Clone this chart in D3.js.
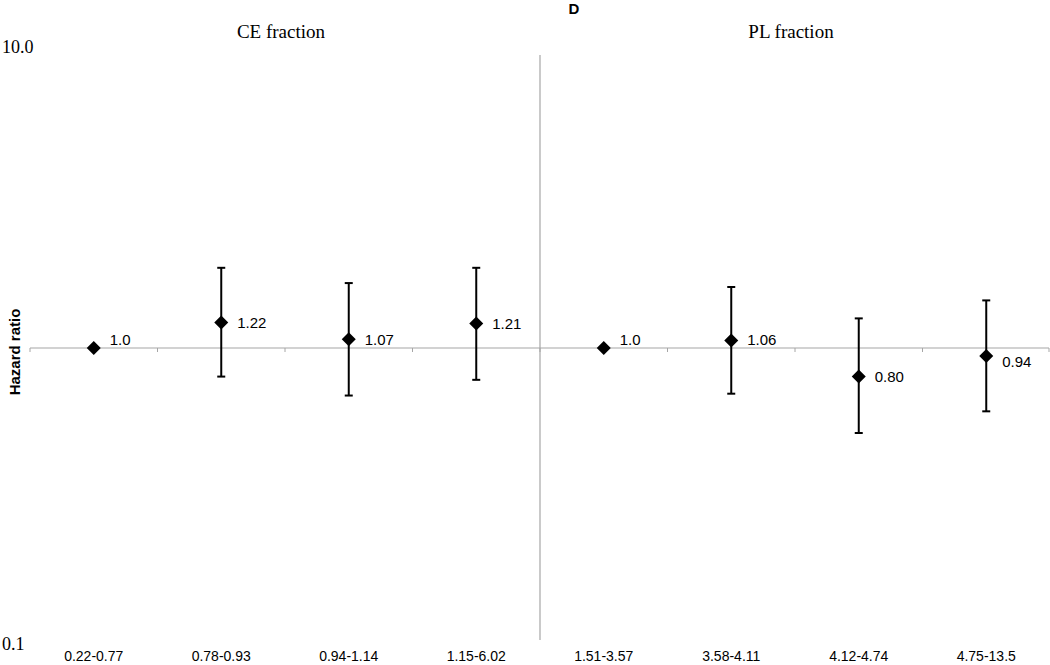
<!DOCTYPE html>
<html>
<head>
<meta charset="utf-8">
<script src="https://cdn.jsdelivr.net/npm/d3@7"></script>
<style>
  html, body { margin: 0; padding: 0; background: #fff; }
  svg { display: block; }
</style>
</head>
<body>
<svg id="chart" width="1050" height="665"></svg>
<script>
// ---- data ----
const categories = ["0.22-0.77", "0.78-0.93", "0.94-1.14", "1.15-6.02",
                    "1.51-3.57", "3.58-4.11", "4.12-4.74", "4.75-13.5"];
const hazardRatio = [1.0, 1.22, 1.07, 1.21, 1.0, 1.06, 0.80, 0.94];
const ciLower     = [null, 0.80, 0.69, 0.78, null, 0.70, 0.515, 0.61];
const ciUpper     = [null, 1.87, 1.66, 1.87, null, 1.61, 1.26, 1.45];
const pointLabels = ["1.0", "1.22", "1.07", "1.21", "1.0", "1.06", "0.80", "0.94"];
const groupTitles = ["CE fraction", "PL fraction"];
const yTickValues = [0.1, 10];
const yTickLabels = ["0.1", "10.0"];
const panelTitle = "D";
const yAxisTitle = "Hazard ratio";

// ---- layout ----
const svg = d3.select("#chart");
const mLeft = 30, mRight = 1050, mTop = 53, mBottom = 643;
const axisColor = "#a6a6a6";

const x = d3.scaleBand().domain(categories).range([mLeft, mRight]).padding(0);
const y = d3.scaleLog().domain([0.1, 10]).range([mBottom, mTop]);
const y1 = y(1);

// horizontal axis line at HR = 1
svg.append("line")
  .attr("x1", mLeft).attr("x2", mRight - 1)
  .attr("y1", y1).attr("y2", y1)
  .attr("stroke", axisColor).attr("stroke-width", 1.2);

// tick marks at band boundaries
const boundaries = categories.map(c => x(c)).concat([mRight - 1]);
svg.selectAll("line.tick").data(boundaries).enter().append("line")
  .attr("class", "tick")
  .attr("x1", d => d).attr("x2", d => d)
  .attr("y1", y1).attr("y2", y1 + 4)
  .attr("stroke", axisColor).attr("stroke-width", 1);

// vertical divider between the two groups
const divX = x(categories[4]);
svg.append("line")
  .attr("x1", divX).attr("x2", divX)
  .attr("y1", y(10) + 2).attr("y2", y(0.1) - 3)
  .attr("stroke", axisColor).attr("stroke-width", 1.2);

// y tick labels
svg.selectAll("text.ylab").data(yTickValues).enter().append("text")
  .attr("class", "ylab")
  .attr("x", 2)
  .attr("y", d => y(d) + (d === 10 ? 0 : 7))
  .attr("font-family", "'Liberation Serif', 'Times New Roman', serif")
  .attr("font-size", 18)
  .attr("fill", "#000")
  .text((d, i) => yTickLabels[i]);

// y axis title
svg.append("text")
  .attr("transform", `translate(20, ${y1 + 4}) rotate(-90)`)
  .attr("text-anchor", "middle")
  .attr("font-family", "'Liberation Sans', Arial, sans-serif")
  .attr("font-weight", "bold")
  .attr("font-size", 15)
  .attr("fill", "#000")
  .text(yAxisTitle);

// category labels
svg.selectAll("text.xlab").data(categories).enter().append("text")
  .attr("class", "xlab")
  .attr("x", d => x(d) + x.bandwidth() / 2)
  .attr("y", 661)
  .attr("text-anchor", "middle")
  .attr("font-family", "'Liberation Sans', Arial, sans-serif")
  .attr("font-size", 14)
  .attr("fill", "#000")
  .text(d => d);

// group titles
const groups = [categories.slice(0, 4), categories.slice(4)];
svg.selectAll("text.gtitle").data(groupTitles).enter().append("text")
  .attr("class", "gtitle")
  .attr("x", (d, i) => (x(groups[i][0]) + x(groups[i][3]) + x.bandwidth()) / 2 - 4)
  .attr("y", 38)
  .attr("text-anchor", "middle")
  .attr("font-family", "'Liberation Serif', 'Times New Roman', serif")
  .attr("font-size", 19)
  .attr("fill", "#000")
  .text(d => d);

// panel title
svg.append("text")
  .attr("x", 574).attr("y", 14)
  .attr("text-anchor", "middle")
  .attr("font-family", "'Liberation Sans', Arial, sans-serif")
  .attr("font-weight", "bold")
  .attr("font-size", 15)
  .attr("fill", "#000")
  .text(panelTitle);

// data
const pts = categories.map((c, i) => ({
  cat: c, v: hazardRatio[i], lo: ciLower[i], hi: ciUpper[i], label: pointLabels[i]
}));
const cx = d => x(d.cat) + x.bandwidth() / 2;
const capW = 4;

const eb = svg.append("g").selectAll("g").data(pts.filter(d => d.lo != null)).enter().append("g");
eb.append("line")
  .attr("x1", cx).attr("x2", cx)
  .attr("y1", d => y(d.hi)).attr("y2", d => y(d.lo))
  .attr("stroke", "#000").attr("stroke-width", 2);
eb.append("line")
  .attr("x1", d => cx(d) - capW).attr("x2", d => cx(d) + capW)
  .attr("y1", d => y(d.hi)).attr("y2", d => y(d.hi))
  .attr("stroke", "#000").attr("stroke-width", 2);
eb.append("line")
  .attr("x1", d => cx(d) - capW).attr("x2", d => cx(d) + capW)
  .attr("y1", d => y(d.lo)).attr("y2", d => y(d.lo))
  .attr("stroke", "#000").attr("stroke-width", 2);

// diamonds
const r = 7;
svg.append("g").selectAll("path").data(pts).enter().append("path")
  .attr("d", d => {
    const X = cx(d), Y = y(d.v);
    return `M${X},${Y - r}L${X + r},${Y}L${X},${Y + r}L${X - r},${Y}Z`;
  })
  .attr("fill", "#000");

// value labels (kept clear of the HR = 1 line)
svg.append("g").selectAll("text").data(pts).enter().append("text")
  .attr("x", d => cx(d) + 16)
  .attr("y", d => d.v >= 1 ? Math.min(y(d.v), y1 - 9) : Math.max(y(d.v), y1 + 13))
  .attr("dominant-baseline", "central")
  .attr("font-family", "'Liberation Sans', Arial, sans-serif")
  .attr("font-size", 15)
  .attr("fill", "#000")
  .text(d => d.label);
</script>
</body>
</html>
